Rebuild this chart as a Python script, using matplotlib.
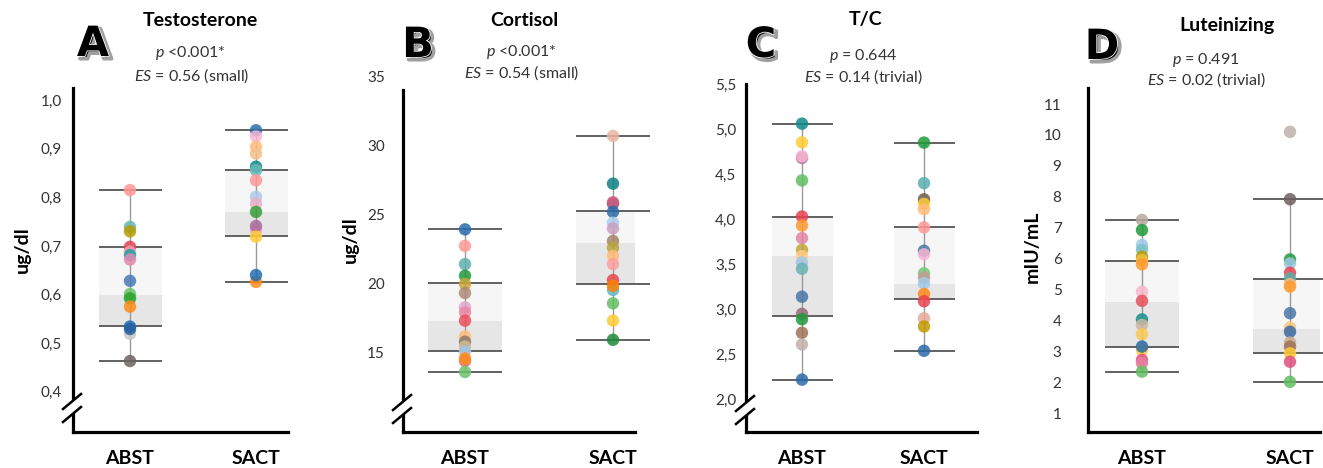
import matplotlib
matplotlib.use("Agg")
from matplotlib import pyplot as plt
import matplotlib.patheffects as pe
import matplotlib.patches as mpatches

plt.rcParams['font.family'] = ['Lato', 'DejaVu Sans']
plt.rcParams['mathtext.fontset'] = 'custom'
plt.rcParams['mathtext.rm'] = 'Lato'
plt.rcParams['mathtext.it'] = 'Lato:italic'

W, H = 1323, 468

groups = ['ABST', 'SACT']

# ---- data ----
titles = ['Testosterone', 'Cortisol', 'T/C', 'Luteinizing']
letters = ['A', 'B', 'C', 'D']
p_texts = ['<0.001*', '<0.001*', '= 0.644', '= 0.491']
es_texts = ['= 0.56 (small)', '= 0.54 (small)', '= 0.14 (trivial)', '= 0.02 (trivial)']
ylabels = ['ug/dl', 'ug/dl', '', 'mIU/mL']

a_abst = [0.815, 0.739, 0.730, 0.698, 0.688, 0.681, 0.672, 0.628, 0.601, 0.592, 0.575, 0.519, 0.534, 0.529, 0.463]
a_abst_c = ['#ff9896', '#5fb7b7', '#b89a00', '#e8424f', '#f4a0b8', '#1aa3a3', '#e78ab0', '#4a7ab8',
            '#6cc46c', '#2ca02c', '#ff8c1a', '#c7c7c7', '#1f6fb4', '#2a5fa0', '#6e6462']
a_sact = [0.938, 0.925, 0.904, 0.890, 0.863, 0.856, 0.835, 0.801, 0.787, 0.770, 0.733, 0.741, 0.719, 0.626, 0.640]
a_sact_c = ['#2d6eaa', '#f7b6d2', '#ffbb78', '#f5c08a', '#0f8a8a', '#6bbaba', '#ff9896', '#aec7e8',
            '#e8b0c8', '#3a9d3a', '#f0a0c0', '#a86c9c', '#ffcc33', '#ff8c1a', '#1f6fb4']

b_abst = [23.89, 22.69, 21.37, 20.53, 19.93, 19.28, 18.24, 17.88, 17.28, 16.13, 15.75, 15.40, 15.05, 14.35, 14.55, 13.56]
b_abst_c = ['#2a6bb0', '#ff9896', '#5fb0b0', '#1f9a3a', '#c9a93a', '#b08a78', '#e0a8c8', '#e88aa5',
            '#e8505a', '#ffbb78', '#8c7a6a', '#d8b890', '#9ec5e8', '#e8706a', '#ff8c1a', '#6cc46c']
b_sact = [30.66, 27.20, 25.75, 25.85, 25.16, 24.37, 23.96, 23.05, 22.56, 21.97, 21.37, 20.22, 19.50, 19.80, 18.53, 17.28, 15.89]
b_sact_c = ['#e8b4a0', '#0d7f86', '#4c66a0', '#d9587a', '#2d6aa8', '#a8cdea', '#c8a0c0', '#a88468',
            '#bba53a', '#ffbb78', '#ff9fa0', '#e84850', '#60b5c0', '#ff8000', '#62bd62', '#ffcc33', '#1f8a3a']

c_abst = [5.06, 4.853, 4.68, 4.698, 4.43, 4.03, 3.93, 3.79, 3.66, 3.59, 3.52, 3.45, 3.14, 2.95, 2.89, 2.74, 2.61, 2.22]
c_abst_c = ['#0f8a8a', '#ffcc33', '#b07090', '#f7b6d2', '#5fbf5f', '#e8424f', '#ff9a30', '#e386a6', '#c4a63a',
            '#ffcc88', '#9ec8e8', '#6ab3b3', '#4a76a8', '#9a6a7a', '#1f9a3a', '#a0725a', '#c0b0a8', '#2a6aa8']
c_sact = [4.85, 4.40, 4.22, 4.17, 4.11, 3.91, 3.65, 3.61, 3.40, 3.35, 3.29, 3.17, 3.09, 2.90, 2.81, 2.54]
c_sact_c = ['#1f9a3a', '#5aaeae', '#6a5a50', '#ffcc33', '#ffbb78', '#ff9896', '#4a76a8', '#f7b6d2',
            '#7ac67a', '#c49c94', '#9ecae8', '#ff8a1a', '#e8424f', '#e8a898', '#c09a00', '#2a6aa8']

d_abst = [7.25, 6.92, 6.44, 6.28, 6.06, 5.95, 5.81, 4.93, 4.63, 4.03, 3.85, 3.55, 3.04, 3.15, 2.72, 2.61, 2.34]
d_abst_c = ['#b8aaa0', '#1f9a3a', '#9ec8e8', '#7cc0c8', '#b89a00', '#f0c040', '#ff9a30', '#f8b8cc', '#e8505a',
            '#17908f', '#d0b8a0', '#f8c850', '#ffcc33', '#2a6aa8', '#e05080', '#e880a0', '#62bd62']
d_sact = [10.10, 7.92, 5.97, 5.84, 5.54, 5.36, 5.17, 5.09, 4.23, 3.77, 3.63, 3.28, 3.15, 2.93, 2.66, 2.01]
d_sact_c = ['#c0b0a8', '#6e6060', '#1f9a3a', '#9ec8e8', '#e8424f', '#5aaeae', '#ffbb78', '#ff9a30',
            '#4a76a8', '#f8c878', '#3a6aa8', '#c8aa90', '#a0725a', '#ffcc33', '#e05080', '#62bd62']

# box stats: low whisker, Q1, median, Q3, high whisker
a_box = [[0.463, 0.535, 0.599, 0.697, 0.815], [0.626, 0.721, 0.770, 0.856, 0.938]]
b_box = [[13.56, 15.05, 17.28, 20.00, 23.89], [15.89, 19.93, 22.93, 25.21, 30.66]]
c_box = [[2.22, 2.93, 3.59, 4.02, 5.06], [2.54, 3.11, 3.28, 3.91, 4.85]]
d_box = [[2.34, 3.15, 4.60, 5.93, 7.25], [2.01, 2.95, 3.71, 5.33, 7.92]]

a_ticks = [0.4, 0.5, 0.6, 0.7, 0.8, 0.9, 1.0]
a_tlabels = ['0,4', '0,5', '0,6', '0,7', '0,8', '0,9', '1,0']
b_ticks = [15, 20, 25, 30, 35]
b_tlabels = ['15', '20', '25', '30', '35']
c_ticks = [2.0, 2.5, 3.0, 3.5, 4.0, 4.5, 5.0, 5.5]
c_tlabels = ['2,0', '2,5', '3,0', '3,5', '4,0', '4,5', '5,0', '5,5']
d_ticks = list(range(1, 12))
d_tlabels = [str(t) for t in d_ticks]

points = [[(a_abst, a_abst_c), (a_sact, a_sact_c)],
          [(b_abst, b_abst_c), (b_sact, b_sact_c)],
          [(c_abst, c_abst_c), (c_sact, c_sact_c)],
          [(d_abst, d_abst_c), (d_sact, d_sact_c)]]
boxes = [a_box, b_box, c_box, d_box]
ticks = [(a_ticks, a_tlabels), (b_ticks, b_tlabels), (c_ticks, c_tlabels), (d_ticks, d_tlabels)]

# ---- layout in pixels ----
# left, top, right, bottom of axes, x pixel of ABST, x pixel of SACT
frames = [(73, 88, 288, 432, 130, 256),
          (403, 76, 635, 432, 465, 613),
          (746, 84, 977, 432, 802, 924),
          (1088, 88, 1320, 432, 1142, 1290)]
ylims = [(0.317, 1.025), (9.21, 35.0), (1.639, 5.5), (0.385, 11.52)]
spine_top = [None, 34.0, None, None]
ytick_pad = [8, 13, 7, 19]
title_xy = [(200, 21), (524, 20), (866, 20), (1227, 25)]
letter_xy = [(93, 44), (418, 45), (761, 45), (1102, 47)]
p_xy = [(190, 53), (521, 52), (863, 56), (1206, 60)]
es_xy = [(192, 76), (522, 73), (863, 77), (1206, 80)]
ylab_xy = [(22, 250), (350, 240), None, (1032, 247)]
breaks = [(73, 407), (403, 408), (746, 409), None]


def fx(x):
    return x / W


def fy(y):
    return 1 - y / H


fig = plt.figure(figsize=(W / 100, H / 100), dpi=100)

for i in range(4):
    L, T, R, B, xa, xs = frames[i]
    ax = fig.add_axes([fx(L), fy(B), (R - L) / W, (B - T) / H])
    k = xs - xa
    ax.set_xlim((L - xa) / k, (R - xa) / k)
    ax.set_ylim(*ylims[i])

    for g in range(2):
        lo, q1, med, q3, hi = boxes[i][g]
        ax.bar(g, q3 - med, bottom=med, width=0.5, color='#f6f6f6', zorder=1)
        ax.bar(g, med - q1, bottom=q1, width=0.5, color='#e6e6e6', zorder=1)
        ax.vlines(g, lo, hi, color='#999999', lw=1.0, zorder=2)
        ax.hlines([lo, q1, q3, hi], g - 0.25, g + 0.25, color='#555555', lw=1.3,
                  zorder=2, clip_on=False)
        vals, cols = points[i][g]
        ax.scatter([g] * len(vals), vals, s=80, c=cols, alpha=0.85, lw=0, zorder=3,
                   clip_on=False)

    for side in ['top', 'right']:
        ax.spines[side].set_visible(False)
    for side in ['left', 'bottom']:
        ax.spines[side].set_linewidth(2.3)
        ax.spines[side].set_color('black')
    if spine_top[i] is not None:
        ax.spines['left'].set_bounds(ylims[i][0], spine_top[i])

    tv, tl = ticks[i]
    ax.set_yticks(tv)
    ax.set_yticklabels(tl)
    ax.set_xticks([0, 1])
    ax.set_xticklabels(groups, fontweight='bold', fontsize=14)
    ax.tick_params(axis='y', length=0, pad=ytick_pad[i], labelsize=11, labelcolor='#333333')
    ax.tick_params(axis='x', length=0, pad=13)

    # figure texts
    fig.text(fx(title_xy[i][0]), fy(title_xy[i][1]), titles[i], ha='center', va='center',
             fontsize=14, fontweight='bold')
    fig.text(fx(p_xy[i][0]), fy(p_xy[i][1]), r'$\mathit{p}$ ' + p_texts[i], ha='center',
             va='center', fontsize=11.5, color='#333333')
    fig.text(fx(es_xy[i][0]), fy(es_xy[i][1]), r'$\mathit{ES}$ ' + es_texts[i], ha='center',
             va='center', fontsize=11.5, color='#333333')
    fig.text(fx(letter_xy[i][0]), fy(letter_xy[i][1]), letters[i], ha='center', va='center',
             fontsize=30, fontweight='bold', family='DejaVu Sans',
             path_effects=[pe.Stroke(linewidth=2.5, foreground='#a0a0a0', offset=(2, -2)),
                           pe.Stroke(linewidth=1.2, foreground='white'),
                           pe.Normal()])
    if ylab_xy[i] is not None:
        fig.text(fx(ylab_xy[i][0]), fy(ylab_xy[i][1]), ylabels[i], ha='center', va='center',
                 rotation=90, fontsize=14, fontweight='bold')

    # axis break
    if breaks[i] is not None:
        sx, cy = breaks[i]
        gap = mpatches.Polygon([(fx(sx - 10), fy(cy + 2)), (fx(sx + 8), fy(cy - 13)),
                                (fx(sx + 8), fy(cy)), (fx(sx - 10), fy(cy + 15))],
                               closed=True, fc='white', ec='none',
                               transform=fig.transFigure, zorder=5)
        fig.add_artist(gap)
        for dy in (0, 13):
            fig.add_artist(plt.Line2D([fx(sx - 10), fx(sx + 8)], [fy(cy + 2 + dy), fy(cy - 13 + dy)],
                                      color='black', lw=1.8, transform=fig.transFigure, zorder=6))

fig.savefig('out.png', dpi=100)
